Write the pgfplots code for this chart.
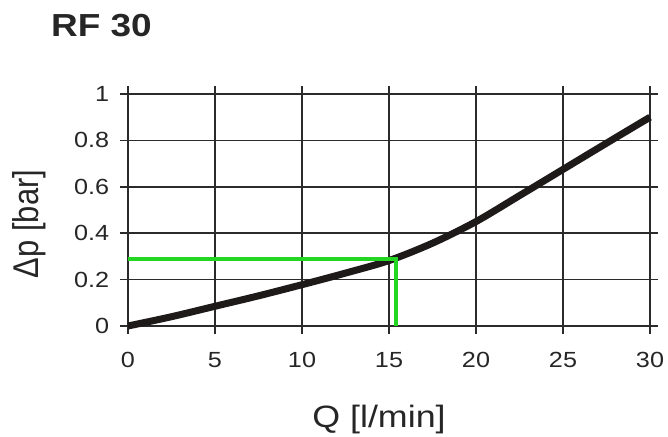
\documentclass[border=0pt]{standalone}
\usepackage{pgfplots}
\pgfplotsset{compat=1.18}
\usepackage{fontspec}
\setmainfont{Liberation Sans}
\definecolor{gridc}{HTML}{2B2B2B}
\definecolor{curvec}{HTML}{1E1A1A}
\definecolor{greenc}{HTML}{22D622}
\begin{document}
\begin{tikzpicture}[x=1bp,y=1bp]
\useasboundingbox (0,0) rectangle (668,437);
\begin{axis}[
  at={(128bp,111bp)}, anchor=south west,
  scale only axis, width=522bp, height=232bp,
  xmin=0, xmax=30, ymin=0, ymax=1,
  xtick={0,5,...,30}, ytick={0,0.2,...,1},
  yticklabels={0,0.2,0.4,0.6,0.8,1},
  grid=major,
  major grid style={gridc, line width=1.6bp},
  axis line style={gridc, line width=1.6bp},
  tick style={gridc, line width=1.6bp},
  tick align=outside, major tick length=8bp,
  ticklabel style={font=\fontsize{22}{26}\selectfont, text=black!85, xscale=1.15},
  xticklabel style={yshift=-15bp},
  yticklabel style={xshift=-6bp},
  /pgf/number format/assume math mode=true,
  clip=false,
]
\addplot[curvec, line width=7bp, smooth] coordinates {
 (0,0) (2.5,0.04) (5,0.085) (7.5,0.13) (10,0.178) (12.5,0.228) (15,0.282)
 (17.5,0.357) (20,0.45) (22.5,0.562) (25,0.675) (27.5,0.788) (30,0.9)};
\addplot[greenc, line width=3.5bp] coordinates {(0,0.289) (15.4,0.289) (15.4,0)};
\end{axis}
\node[anchor=base west, font=\fontsize{32}{38}\selectfont\bfseries, text=black!85, xscale=1.16] at (47,400) {RF 30};
\node[anchor=base, font=\fontsize{31}{36}\selectfont, text=black!85, xscale=1.16] at (379,9) {Q [l/min]};
\node[rotate=90, font=\fontsize{31}{36}\selectfont, text=black!85, yscale=1.16] at (29,213) {Δp [bar]};
\end{tikzpicture}
\end{document}
